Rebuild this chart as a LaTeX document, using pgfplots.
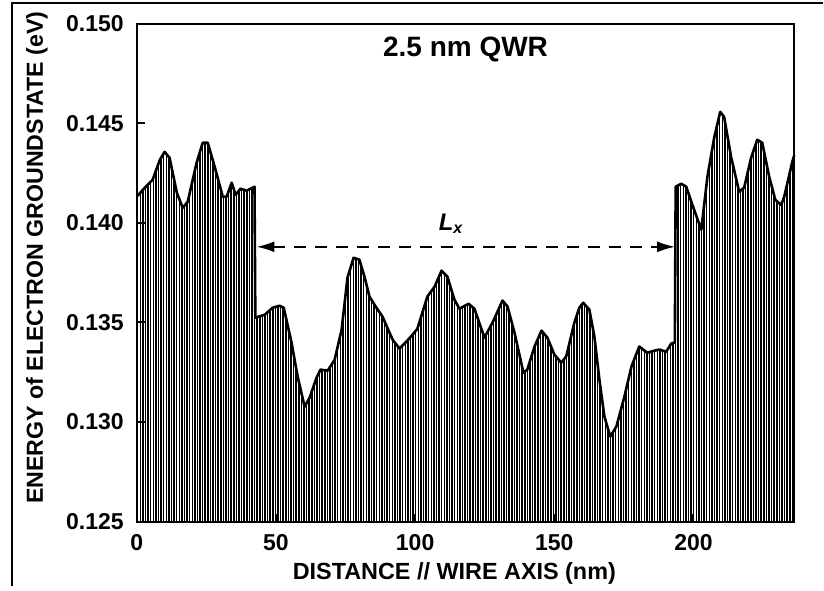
\documentclass[border=0pt]{standalone}
\usepackage{fontspec}
\setmainfont{Liberation Sans}
\usepackage{pgfplots}
\usepackage{pgfplotstable}
\pgfplotsset{compat=1.18}
\usetikzlibrary{patterns.meta,arrows.meta}

\pgfplotstableread{
x y
0 0.14132
2.9 0.14177
5.7 0.14217
8.3 0.14317
10 0.14357
11.8 0.14327
14.4 0.14152
16.5 0.14076
18.3 0.14106
21.5 0.14302
23.7 0.14403
25.5 0.14403
28 0.14282
30.9 0.14132
32.3 0.14132
34.1 0.14202
35.5 0.14142
37.3 0.14172
39.5 0.14162
42.3 0.14182
42.6 0.13524
46 0.13539
48.8 0.13574
51.3 0.13584
52.8 0.13574
55.6 0.13399
57.8 0.13228
60.3 0.13077
62.1 0.13122
64.6 0.13223
66 0.13263
68.6 0.13258
71.1 0.13313
73.6 0.13464
75.7 0.13725
77.9 0.13825
80 0.13815
81.8 0.13730
83.6 0.13630
86.1 0.13574
88.3 0.13529
91.9 0.13414
94.4 0.13369
96.9 0.13404
99.1 0.13439
100.8 0.13468
104.4 0.13630
107 0.13680
109.5 0.13760
111.6 0.13730
114.1 0.13615
115.9 0.13569
119.2 0.13594
121.3 0.13569
124.9 0.13424
127.8 0.13499
131.4 0.13610
133.2 0.13580
135.7 0.13449
138.9 0.13248
140.3 0.13263
142.9 0.13379
145.4 0.13459
147.5 0.13424
150 0.13339
152.5 0.13298
154.3 0.13330
157.2 0.13499
159 0.13574
160.4 0.13599
162.6 0.13564
164.4 0.13429
166.2 0.13213
168 0.13027
170.1 0.12927
172.3 0.12977
175.2 0.13128
177.7 0.13278
180.5 0.13379
183.4 0.13348
185.9 0.13358
187.7 0.13364
190.2 0.13353
192 0.13394
193.3 0.13400
193.6 0.14182
195.6 0.14197
197.4 0.14182
199.6 0.14091
202.8 0.13966
205 0.14232
207.5 0.14433
209.6 0.14558
211 0.14533
213.5 0.14332
216.4 0.14157
218.2 0.14177
220.7 0.14327
222.9 0.14418
224.7 0.14403
227.2 0.14232
229.4 0.14116
231.5 0.14091
232.6 0.14132
235.5 0.14307
236.2 0.14340
}\qwr

\begin{document}
\begin{tikzpicture}
\begin{axis}[
  scale only axis,
  width=329pt, height=249pt,
  xmin=0, xmax=236.2,
  ymin=0.125, ymax=0.150,
  xtick={0,50,100,150,200},
  ytick={0.125,0.130,0.135,0.140,0.145,0.150},
  scaled y ticks=false,
  /pgf/number format/assume math mode=true,
  ticklabel style={font=\bfseries\fontsize{11.5}{12}\selectfont},
  xticklabel style={yshift=-3pt},
  yticklabel style={xshift=-3pt, /pgf/number format/.cd, fixed, fixed zerofill, precision=3},
  tick align=inside,
  major tick length=4pt,
  xtick pos=bottom, ytick pos=left,
  axis line style={line width=1pt},
  tick style={line width=1pt, black},
  axis on top=true,
  clip=false,
  xlabel={DISTANCE // WIRE AXIS (nm)},
  ylabel={ENERGY of ELECTRON GROUNDSTATE (eV)},
  xlabel style={font=\bfseries\fontsize{11.7}{12}\selectfont, at={(rel axis cs:0.483,-0.104)}, anchor=center},
  ylabel style={font=\bfseries\fontsize{11.6}{12}\selectfont, at={(rel axis cs:-0.152,0.53)}, anchor=center},
]
\addplot[draw=none, pattern={Lines[angle=90,distance=1.3pt,line width=0.75pt]}, pattern color=black] table[x=x,y=y] {\qwr} \closedcycle;
\addplot[black, line width=1.3pt, line join=round] table[x=x,y=y] {\qwr};
\draw[dashed, dash pattern=on 6pt off 4.5pt, line width=1pt, {Latex[length=9pt,width=5.5pt]}-{Latex[length=9pt,width=5.5pt]}] (axis cs:43.0,0.1388) -- (axis cs:193.4,0.1388);
\node[font=\bfseries\fontsize{12}{12}\selectfont] at (axis cs:113,0.13995) {\textit{L}\textsubscript{\textit{x}}};
\node[font=\bfseries\fontsize{14}{14}\selectfont] at (rel axis cs:0.5,0.948) {2.5 nm QWR};
\draw[line width=0.8pt] (rel axis cs:-0.190,-0.1305) -- (rel axis cs:-0.190,1.042) -- (rel axis cs:1.044,1.042);
\path (rel axis cs:-0.208,-0.1305) rectangle (rel axis cs:1.044,1.048);
\end{axis}
\end{tikzpicture}
\end{document}
